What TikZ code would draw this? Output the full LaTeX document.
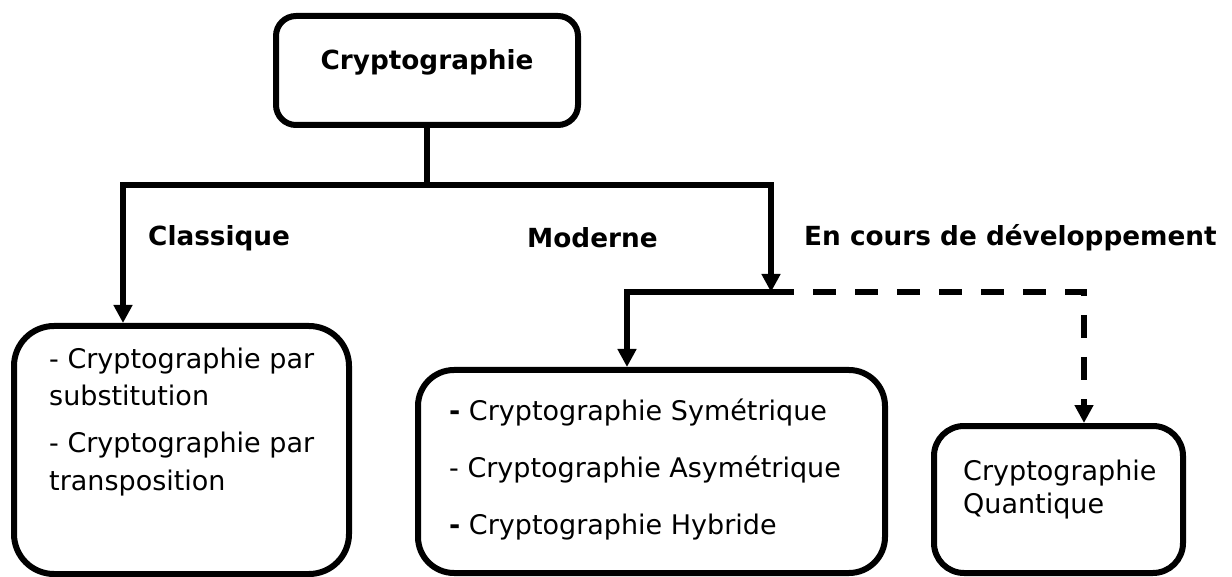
\documentclass[tikz,border=0pt]{standalone}
\usepackage{fontspec}
\setmainfont{DejaVu Sans}
\usetikzlibrary{arrows.meta}
\begin{document}
\begin{tikzpicture}[x=1pt,y=-1pt,
  box/.style={draw,line width=6pt,rectangle,inner sep=0pt},
  conn/.style={line width=6pt},
  arr/.style={line width=6pt,-{Triangle[width=18pt,length=18pt]}},
  dashconn/.style={line width=6pt,dash pattern=on 23pt off 19pt},
  txt/.style={inner sep=0pt,anchor=base west,font=\fontsize{27}{32}\selectfont},
  lbl/.style={inner sep=0pt,anchor=west,font=\fontsize{26.3}{32}\selectfont\bfseries}]
\useasboundingbox (0,0) rectangle (1232,577);
% boxes
\node[box,rounded corners=20pt,minimum width=302pt,minimum height=109pt] (root) at (427,70.5) {};
\node[box,rounded corners=40pt,minimum width=335pt,minimum height=248pt] (left) at (181.5,450) {};
\node[box,rounded corners=36pt,minimum width=467pt,minimum height=203pt] (mid) at (651.5,471.5) {};
\node[box,rounded corners=30pt,minimum width=249pt,minimum height=147pt] (quant) at (1058.5,499.5) {};
% texts
\node[lbl,anchor=center] (roottxt) at (427,62) {Cryptographie};
\node[lbl] (classique) at (148,238) {Classique};
\node[lbl] (moderne) at (527,238) {Moderne};
\node[lbl] (encours) at (804,238) {En cours de développement};
\node[txt] (l1) at (49,368) {- Cryptographie par};
\node[txt] (l2) at (49,405) {substitution};
\node[txt] (l3) at (49,452) {- Cryptographie par};
\node[txt] (l4) at (49,490) {transposition};
\node[txt] (m1) at (449,420) {\textbf{-} Cryptographie Symétrique};
\node[txt] (m2) at (449,477) {- Cryptographie Asymétrique};
\node[txt] (m3) at (449,534) {\textbf{-} Cryptographie Hybride};
\node[txt] (q1) at (963,480) {Cryptographie};
\node[txt] (q2) at (963,513) {Quantique};
% connectors
\coordinate (j) at (427,185);
\coordinate (cl) at (123,185);
\coordinate (cm) at (771,185);
\coordinate (mj) at (771,292);
\coordinate (ms) at (627,292);
\coordinate (qj) at (1084,292);
\coordinate (qa) at (1084,405);
\draw[conn] (root.south) -- (j);
\draw[conn,line cap=rect] (cl) -- (cm);
\draw[arr] (cl) -- (cl |- left.north);
\draw[arr] (cm) -- (mj);
\draw[conn,line cap=rect] (ms) -- (mj);
\draw[arr] (ms) -- (ms |- mid.north);
\draw[dashconn] (mj) -- (qj) -- (qa);
\draw[arr] (qa) -- (qa |- quant.north);
\end{tikzpicture}
\end{document}
